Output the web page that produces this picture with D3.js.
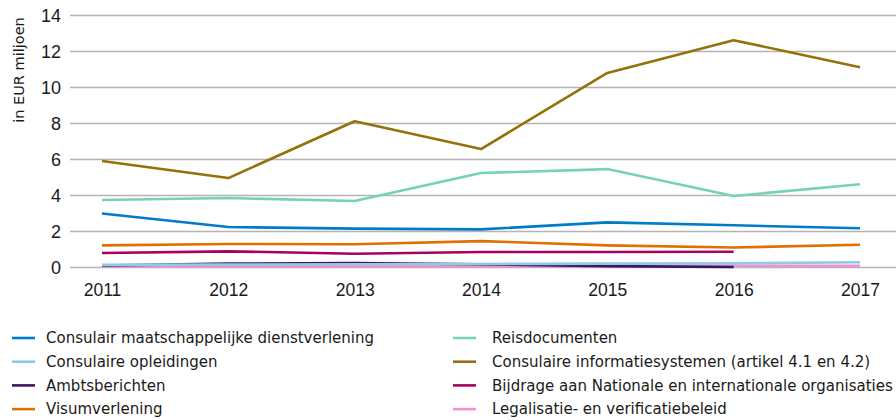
<!DOCTYPE html>
<html><head><meta charset="utf-8">
<script src="https://cdn.jsdelivr.net/npm/d3@7"></script>
<style>body{margin:0;background:#fff}svg{display:block;font-family:"Open Sans",sans-serif}</style>
</head><body><svg id="c" width="896" height="420"></svg>
<script>
const years = [2011, 2012, 2013, 2014, 2015, 2016, 2017];
const yTicks = [0, 2, 4, 6, 8, 10, 12, 14];
const seriesNames = [
  "Consulair maatschappelijke dienstverlening",
  "Consulaire opleidingen",
  "Ambtsberichten",
  "Visumverlening",
  "Reisdocumenten",
  "Consulaire informatiesystemen (artikel 4.1 en 4.2)",
  "Bijdrage aan Nationale en internationale organisaties",
  "Legalisatie- en verificatiebeleid"
];
const seriesColors = ["#007bc7","#8fcae7","#42145f","#e17000","#76d2b6","#94710a","#a90061","#f092cd"];
const consulairMaatschappelijk = [2.97, 2.22, 2.13, 2.09, 2.48, 2.32, 2.15];
const consulaireOpleidingen   = [0.12, 0.14, 0.15, 0.17, 0.19, 0.2, 0.26];
const ambtsberichten          = [0.08, 0.19, 0.22, 0.15, 0.05, 0.0, null];
const visumverlening          = [1.2, 1.28, 1.26, 1.44, 1.2, 1.08, 1.24];
const reisdocumenten          = [3.72, 3.83, 3.67, 5.22, 5.44, 3.94, 4.6];
const informatiesystemen      = [5.89, 4.94, 8.1, 6.55, 10.78, 12.6, 11.1];
const bijdrage                = [0.78, 0.87, 0.74, 0.83, 0.83, 0.85, null];
const legalisatie             = [0.05, 0.05, 0.05, 0.05, 0.05, 0.06, 0.06];
// drawing order (bottom to top)
const drawOrder = [7, 2, 1, 6, 3, 0, 4, 5];
const seriesValues = [consulairMaatschappelijk, consulaireOpleidingen, ambtsberichten, visumverlening,
  reisdocumenten, informatiesystemen, bijdrage, legalisatie];

const svg = d3.select("#c");
const x = d3.scalePoint().domain(years).range([102, 860]);
const y = d3.scaleLinear().domain([0, 14]).range([267, 15]);

// grid
const gy = svg.append("g").attr("transform", "translate(70,0)")
  .call(d3.axisLeft(y).tickValues(yTicks).tickSize(-826).tickPadding(9));
gy.select(".domain").remove();
gy.selectAll(".tick line").attr("stroke", "#b4b4b4").attr("stroke-width", 1.3);
gy.selectAll(".tick text").attr("font-size", 18).attr("fill", "#1a1a1a").attr("dy", "0.34em");

const gx = svg.append("g").attr("transform", "translate(0,267)")
  .call(d3.axisBottom(x).tickSize(0).tickPadding(17));
gx.select(".domain").remove();
gx.selectAll(".tick text").attr("font-size", 17.5).attr("fill", "#1a1a1a");

svg.append("text").attr("transform", "translate(24,70) rotate(-90)")
  .attr("text-anchor", "middle").attr("font-family", "DejaVu Sans").attr("font-size", 14.5)
  .attr("fill", "#1a1a1a").text("in EUR miljoen");

const line = d3.line().defined(d => d != null).x((d, i) => x(years[i])).y(d => y(d));
drawOrder.forEach(k => {
  svg.append("path").datum(seriesValues[k]).attr("fill", "none")
    .attr("stroke", seriesColors[k]).attr("stroke-width", 2.6)
    .attr("stroke-linejoin", "round").attr("d", line);
});

// legend
const legendPos = [[0,0],[0,1],[0,2],[0,3],[1,0],[1,1],[1,2],[1,3]];
seriesNames.forEach((n, k) => {
  const [col, row] = legendPos[k];
  const lx = col ? 453 : 12, ty = 338 + row * 23.7;
  const g = svg.append("g");
  g.append("line").attr("x1", lx).attr("x2", lx + 23).attr("y1", ty).attr("y2", ty)
    .attr("stroke", seriesColors[k]).attr("stroke-width", 2.6);
  g.append("text").attr("x", lx + (col ? 39 : 34)).attr("y", ty).attr("dy", "0.35em")
    .attr("font-family", "DejaVu Sans").attr("font-size", 15)
    .attr("fill", "#1a1a1a").text(n);
});
</script></body></html>
